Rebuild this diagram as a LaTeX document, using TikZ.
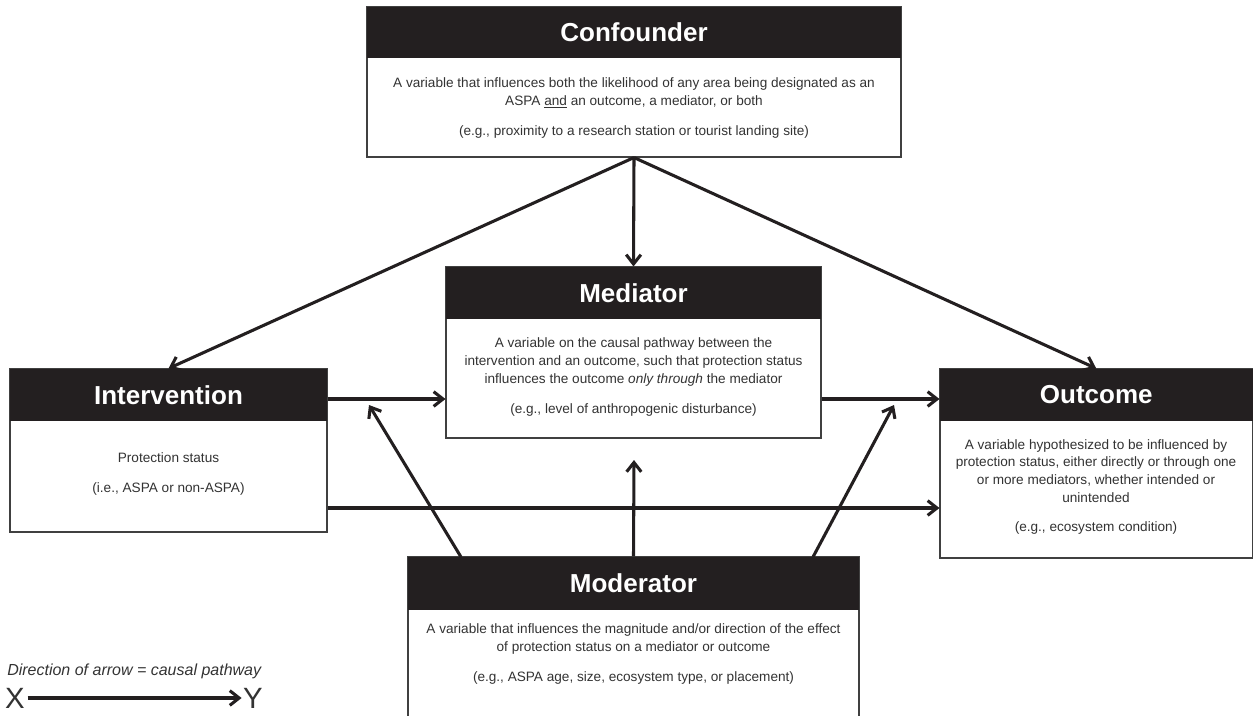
\documentclass[tikz,border=0pt]{standalone}
\usepackage{fontspec}
\setmainfont{Liberation Sans}
\usetikzlibrary{arrows.meta,fit,calc}
\definecolor{hdr}{HTML}{231F20}
\definecolor{txt}{HTML}{333333}
\begin{document}
\begin{tikzpicture}[x=0.75pt,y=-0.75pt,
  box/.style={draw=black!75, line width=0.8pt, inner sep=0pt, fill=white},
  head/.style={fill=hdr, inner sep=0pt},
  title/.style={text=white, inner sep=0pt, font=\fontsize{19.5}{22}\selectfont\bfseries},
  body/.style={text=txt, align=center, inner sep=0pt, font=\fontsize{10.2}{13.3}\selectfont},
  arr/.style={line width=2.3pt, draw=hdr, -{Straight Barb[length=7pt,width=11pt]}},
]
\useasboundingbox (0,0) rectangle (1253,715);
\clip (0,0) rectangle (1253,715);

% Confounder
\node[box, fit={(367,7) (901,157)}] (conf) {};
\node[head, fit={(367,7) (901,58)}] (confh) {};
\node[title] (conft) at (confh.center) {Confounder};
\node[body] (confb) at (634,108) {A variable that influences both the likelihood of any area being designated as an\\ASPA \underline{and} an outcome, a mediator, or both\\[9pt](e.g., proximity to a research station or tourist landing site)};

% Mediator
\node[box, fit={(446,267) (821,438)}] (med) {};
\node[head, fit={(446,267) (821,319)}] (medh) {};
\node[title] (medt) at (medh.center) {Mediator};
\node[body] (medb) at (633.5,377) {A variable on the causal pathway between the\\intervention and an outcome, such that protection status\\influences the outcome \textit{only through} the mediator\\[9pt](e.g., level of anthropogenic disturbance)};

% Intervention
\node[box, fit={(10,369) (327,532)}] (int) {};
\node[head, fit={(10,369) (327,421)}] (inth) {};
\node[title] (intt) at (inth.center) {Intervention};
\node[body] (intb) at (168.5,474) {Protection status\\[9pt](i.e., ASPA or non-ASPA)};

% Outcome
\node[box, fit={(940,369) (1252.5,558)}] (out) {};
\node[head, fit={(940,369) (1252.5,421)}] (outh) {};
\node[title] (outt) at (outh.center) {Outcome};
\node[body] (outb) at (1096,487) {A variable hypothesized to be influenced by\\protection status, either directly or through one\\or more mediators, whether intended or\\unintended\\[9pt](e.g., ecosystem condition)};

% Moderator
\node[box, fit={(408,557) (859,740)}] (mod) {};
\node[head, fit={(408,557) (859,610)}] (modh) {};
\node[title] (modt) at (modh.center) {Moderator};
\node[body] (modb) at (633.5,654) {A variable that influences the magnitude and/or direction of the effect\\of protection status on a mediator or outcome\\[9pt](e.g., ASPA age, size, ecosystem type, or placement)};

% helper coordinates
\coordinate (r1) at (0,399);
\coordinate (r2) at (0,508);
\coordinate (m1) at (634,460);
\coordinate (mLs) at (461,557);
\coordinate (mLt) at (369,405);
\coordinate (mRs) at (813,557);
\coordinate (mRt) at (894,405);

% connectors
\draw[arr] (conf.south) -- (med.north);
\draw[arr] (conf.south) -- (int.north);
\draw[arr] (conf.south) -- (out.north);
\draw[arr] (int.east |- r1) -- (med.west |- r1);
\draw[arr] (med.east |- r1) -- (out.west |- r1);
\draw[arr] (int.east |- r2) -- (out.west |- r2);
\draw[arr] (mod.north) -- (m1);
\draw[arr] (mLs) -- (mLt);
\draw[arr] (mRs) -- (mRt);

% legend
\node[anchor=west, inner sep=0pt, text=txt, font=\fontsize{12}{14}\selectfont\itshape] (leg) at (7,671) {Direction of arrow = causal pathway};
\node[inner sep=0pt, text=txt, font=\fontsize{22}{24}\selectfont] (lx) at (15,698) {X};
\node[inner sep=0pt, text=txt, font=\fontsize{22}{24}\selectfont] (ly) at (253,698) {Y};
\draw[arr] ([xshift=2pt]lx.east) -- ([xshift=-1pt]ly.west);
\end{tikzpicture}
\end{document}
